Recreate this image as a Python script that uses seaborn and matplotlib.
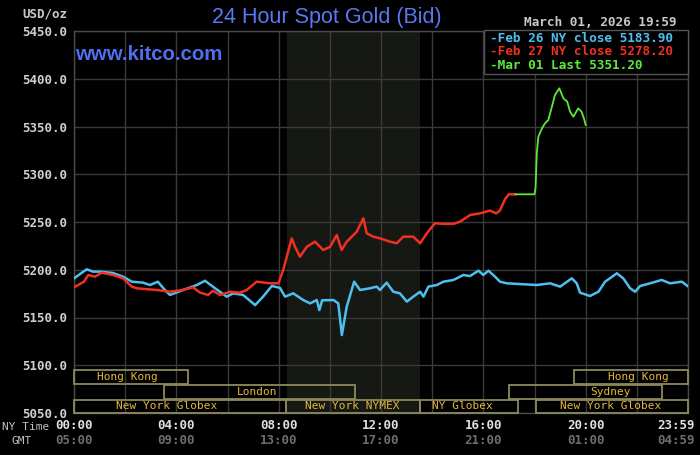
import numpy as np
import pandas as pd
import matplotlib
matplotlib.use("Agg")
import matplotlib.pyplot as plt
from matplotlib.patches import Rectangle
import seaborn as sns

# ---------------- data ----------------
feb26_hours = [0.0, 0.50, 0.74, 1.02, 1.52, 1.92, 2.26, 2.70, 2.97, 3.28, 3.48, 3.75,
               4.26, 4.80, 5.12, 5.43, 5.97, 6.22, 6.61, 7.08, 7.39, 7.73, 8.05, 8.25,
               8.57, 8.96, 9.23, 9.49, 9.59, 9.70, 10.14, 10.33, 10.47, 10.66, 10.95,
               11.18, 11.57, 11.83, 11.96, 12.22, 12.48, 12.74, 13.01, 13.26, 13.53,
               13.66, 13.85, 14.18, 14.44, 14.83, 15.22, 15.48, 15.81, 16.00, 16.20,
               16.46, 16.65, 16.92, 18.09, 18.61, 19.00, 19.46, 19.65, 19.78, 20.17,
               20.50, 20.76, 21.22, 21.47, 21.74, 21.93, 22.13, 22.52, 22.97, 23.30,
               23.76, 23.98]
feb26_prices = [5191.0, 5200.5, 5198.0, 5198.0, 5196.6, 5192.7, 5187.5, 5186.5, 5184.0,
                5187.5, 5181.0, 5173.6, 5178.8, 5184.0, 5188.5, 5182.3, 5171.8, 5175.3,
                5173.6, 5163.0, 5171.8, 5183.0, 5181.0, 5171.8, 5175.3, 5168.3, 5164.8,
                5168.3, 5157.8, 5168.0, 5168.3, 5164.8, 5131.6, 5161.3, 5187.5, 5178.8,
                5180.6, 5182.3, 5178.8, 5186.5, 5177.0, 5175.3, 5166.6, 5171.8, 5177.0,
                5171.8, 5182.3, 5184.0, 5187.5, 5189.3, 5194.5, 5193.4, 5199.0, 5194.5,
                5199.0, 5192.7, 5187.5, 5185.8, 5184.0, 5185.8, 5182.3, 5191.0, 5185.8,
                5176.0, 5172.5, 5177.0, 5187.5, 5196.3, 5191.0, 5180.6, 5177.0, 5183.0,
                5185.8, 5189.3, 5185.8, 5187.5, 5183.0]

feb27_hours = [0.0, 0.39, 0.56, 0.82, 1.08, 1.52, 1.92, 2.26, 2.45, 3.23, 3.75, 4.26,
               4.65, 4.93, 5.24, 5.43, 5.71, 6.10, 6.49, 6.75, 7.14, 7.66, 7.99, 8.18,
               8.33, 8.51, 8.64, 8.83, 9.10, 9.42, 9.74, 10.01, 10.27, 10.46, 10.66,
               11.05, 11.31, 11.44, 11.70, 11.96, 12.35, 12.61, 12.87, 13.26, 13.53,
               13.79, 14.11, 14.44, 14.83, 15.09, 15.48, 15.87, 16.26, 16.50, 16.65,
               16.85, 17.00, 17.25]
feb27_prices = [5181.6, 5187.5, 5194.5, 5192.7, 5196.9, 5194.5, 5191.0, 5182.3, 5180.6,
                5178.8, 5177.0, 5178.8, 5181.6, 5176.0, 5173.6, 5178.0, 5173.6, 5177.0,
                5176.0, 5178.8, 5187.5, 5185.8, 5185.8, 5200.0, 5215.0, 5232.9, 5224.0,
                5213.7, 5224.0, 5229.4, 5220.7, 5224.0, 5236.4, 5220.7, 5229.4, 5239.8,
                5253.9, 5238.2, 5234.6, 5232.9, 5229.4, 5227.7, 5234.6, 5234.6, 5227.7,
                5238.2, 5248.7, 5248.0, 5248.0, 5250.3, 5257.3, 5259.0, 5262.0, 5259.0,
                5262.0, 5274.0, 5279.0, 5279.0]

mar01_hours = [17.25, 18.00, 18.04, 18.09, 18.15, 18.29, 18.41, 18.54, 18.68, 18.80,
               18.97, 19.13, 19.28, 19.39, 19.52, 19.71, 19.84, 19.93, 20.00]
mar01_prices = [5279.0, 5279.0, 5285.3, 5322.0, 5339.3, 5348.0, 5353.3, 5356.8, 5370.7,
                5383.0, 5390.0, 5379.5, 5376.0, 5365.5, 5360.3, 5369.0, 5365.5, 5358.6,
                5351.6]

legend_labels = ["-Feb 26 NY close 5183.90", "-Feb 27 NY close 5278.20", "-Mar 01 Last 5351.20"]

y_ticks = [5050, 5100, 5150, 5200, 5250, 5300, 5350, 5400, 5450]
x_tick_hours = [0, 4, 8, 12, 16, 20, 23.53]
ny_labels = ["00:00", "04:00", "08:00", "12:00", "16:00", "20:00", "23:59"]
gmt_labels = ["05:00", "09:00", "13:00", "17:00", "21:00", "01:00", "04:59"]

nymex_span = (8.33, 13.53)

session_names = ["Hong Kong", "London", "New York Globex", "New York NYMEX", "NY Globex",
                 "Sydney", "Hong Kong", "New York Globex"]
session_start = [0.0, 3.5, 0.0, 8.3, 13.53, 17.0, 19.55, 18.06]
session_end = [4.47, 10.98, 8.3, 13.53, 17.37, 23.0, 24.0, 24.0]
session_row = [2, 1, 0, 0, 0, 1, 2, 0]
# layout: label centres (hours)
session_label_at = [2.07, 7.14, 3.62, 10.87, 15.2, 20.99, 22.05, 20.98]

# ---------------- styling ----------------
BG = "#000000"
GRID = "#3a3a3a"
W, H = 700, 455
mono = "DejaVu Sans Mono"

fig = plt.figure(figsize=(7, 4.55), dpi=100, facecolor=BG)
ax = fig.add_axes([74 / W, 1 - 413 / H, 614 / W, 382 / H])
ax.set_facecolor(BG)

ax.axvspan(*nymex_span, color="#161814", zorder=0, lw=0)

df26 = pd.DataFrame({"hour": feb26_hours, "price": feb26_prices})
df27 = pd.DataFrame({"hour": feb27_hours, "price": feb27_prices})
df01 = pd.DataFrame({"hour": mar01_hours, "price": mar01_prices})
sns.lineplot(data=df26, x="hour", y="price", ax=ax, color="#4ec0f0", lw=1.8,
             estimator=None, sort=False, zorder=3)
sns.lineplot(data=df27, x="hour", y="price", ax=ax, color="#f03020", lw=1.8,
             estimator=None, sort=False, zorder=3)
sns.lineplot(data=df01, x="hour", y="price", ax=ax, color="#5ee83a", lw=1.3,
             estimator=None, sort=False, zorder=4)

ax.set_xlim(0, 24)
ax.set_ylim(5050, 5450)
ax.set_xticks(np.arange(0, 25, 2))
ax.set_yticks(y_ticks)
ax.set_yticklabels([f"{v:.1f}" for v in y_ticks])
ax.set_xticklabels([])
ax.grid(True, color=GRID, lw=1.0, zorder=1)
ax.set_axisbelow(True)
ax.tick_params(length=0, labelcolor="#d0d0d0", labelsize=9, pad=5)
for lab in ax.get_yticklabels():
    lab.set_fontfamily(mono)
    lab.set_fontweight("bold")
ax.set_xlabel("")
ax.set_ylabel("")
for s in ax.spines.values():
    s.set_color("#4a4a4a")
    s.set_linewidth(1.0)

# x tick labels (two rows)
xt = ax.get_xaxis_transform()
for h, a, b in zip(x_tick_hours, ny_labels, gmt_labels):
    ax.text(h, -0.034, a, transform=xt, ha="center", va="center", color="#e0e0e0",
            fontsize=9, fontfamily=mono, fontweight="bold", clip_on=False)
    ax.text(h, -0.073, b, transform=xt, ha="center", va="center", color="#6e6e6e",
            fontsize=9, fontfamily=mono, fontweight="bold", clip_on=False)
fig.text(26 / W, 1 - 427 / H, "NY Time", ha="center", va="center", color="#c0c0c0",
         fontsize=8, fontfamily=mono)
fig.text(22 / W, 1 - 441 / H, "GMT", ha="center", va="center", color="#c0c0c0",
         fontsize=8, fontfamily=mono)

# session boxes
row_y = [(0.0, 0.035), (0.037, 0.074), (0.076, 0.112)]
for name, s, e, r, lx in zip(session_names, session_start, session_end, session_row,
                             session_label_at):
    y0, y1 = row_y[r]
    ax.add_patch(Rectangle((s, y0), e - s, y1 - y0, transform=xt, fill=False,
                           ec="#8c8a5c", lw=1.3, zorder=6, clip_on=False))
    ax.text(lx, (y0 + y1) / 2, name, transform=xt, ha="center", va="center",
            color="#e2b83a", fontsize=8, fontfamily=mono, zorder=7)

# legend box
ax.add_patch(Rectangle(((484 - 74) / 614, (413 - 74) / 382), (688 - 484) / 614,
                       (74 - 30) / 382, transform=ax.transAxes, fc=BG, ec="#555555",
                       lw=1.0, zorder=8, clip_on=False))
leg_colors = ["#4ec0f0", "#f03020", "#5ee83a"]
for i, (lab, c) in enumerate(zip(legend_labels, leg_colors)):
    ypx = [38.3, 51.7, 65.7][i]
    ax.text((490 - 74) / 614, (413 - ypx) / 382, lab, transform=ax.transAxes,
            ha="left", va="center", color=c, fontsize=9.2, fontfamily=mono,
            fontweight="bold", zorder=9)

# header texts
fig.text(327 / W, 1 - 17 / H, "24 Hour Spot Gold (Bid)", ha="center", va="center",
         color="#5a78f0", fontsize=15.5, fontfamily="Liberation Sans")
fig.text(75 / W, 1 - 54 / H, "www.kitco.com", ha="left", va="center",
         color="#4f6ff0", fontsize=14.7, fontfamily="Liberation Sans", fontweight="bold")
fig.text(45 / W, 1 - 14 / H, "USD/oz", ha="center", va="center", color="#c8c8c8",
         fontsize=9, fontfamily=mono, fontweight="bold")
fig.text(677 / W, 1 - 22 / H, "March 01, 2026 19:59", ha="right", va="center",
         color="#c8c8c8", fontsize=9.2, fontfamily=mono, fontweight="bold")

fig.savefig("out.png", dpi=100, facecolor=BG)
